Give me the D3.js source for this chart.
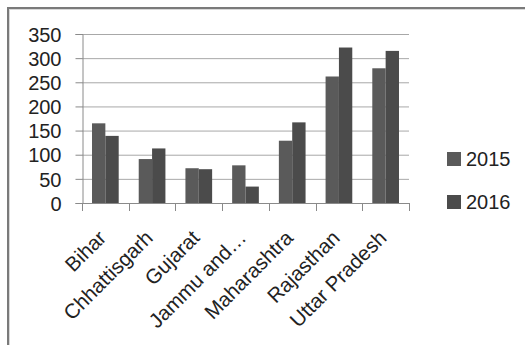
<!DOCTYPE html>
<html>
<head>
<meta charset="utf-8">
<script src="https://cdn.jsdelivr.net/npm/d3@7"></script>
<style>
  html, body { margin: 0; padding: 0; background: #fff; }
  svg { display: block; }
  text { font-family: "Liberation Sans", Arial, sans-serif; fill: #222; }
</style>
</head>
<body>
<svg id="chart" width="525" height="345"></svg>
<script>
// States and yearly counts
const categories = ["Bihar", "Chhattisgarh", "Gujarat", "Jammu and\u2026", "Maharashtra", "Rajasthan", "Uttar Pradesh"];
const seriesNames = ["2015", "2016"];
const values2015 = [165, 91, 72, 78, 129, 262, 279];
const values2016 = [139, 113, 70, 34, 167, 322, 315];
const yTicks = [0, 50, 100, 150, 200, 250, 300, 350];
const colors = ["#5a5a5a", "#4b4b4b"];

const svg = d3.select("#chart");

// Frame edges (top and left)
svg.append("rect").attr("x", 7).attr("y", 7).attr("width", 518).attr("height", 2).attr("fill", "#7a7a7a");
svg.append("rect").attr("x", 7).attr("y", 9).attr("width", 518).attr("height", 1).attr("fill", "#d8d8d8");
svg.append("rect").attr("x", 7).attr("y", 7).attr("width", 2).attr("height", 338).attr("fill", "#7a7a7a");
svg.append("rect").attr("x", 9).attr("y", 9).attr("width", 1).attr("height", 336).attr("fill", "#d8d8d8");

const plot = { left: 82, right: 409, top: 34, bottom: 203 };

const x = d3.scaleBand().domain(categories).range([plot.left, plot.right]);
const y = d3.scaleLinear().domain([0, 350]).range([plot.bottom, plot.top]);

// Gridlines
svg.append("g").selectAll("line").data(yTicks.filter(d => d > 0)).join("line")
  .attr("x1", plot.left).attr("x2", plot.right)
  .attr("y1", d => y(d) + 0.5).attr("y2", d => y(d) + 0.5)
  .attr("stroke", "#a8a8a8").attr("stroke-width", 1);

// Y axis
const yAxis = svg.append("g").attr("transform", `translate(${plot.left + 0.5},0)`)
  .call(d3.axisLeft(y).tickValues(yTicks).tickSize(7).tickPadding(14));
yAxis.select(".domain").attr("stroke", "#8a8a8a");
yAxis.selectAll(".tick line").attr("stroke", "#8a8a8a");
yAxis.selectAll("text").attr("font-size", "20px").attr("fill", "#222")
  .attr("font-family", "'Liberation Sans', Arial, sans-serif").attr("dy", "0.36em");

// Bars
const rows = categories.map((c, i) => ({ c, vals: [values2015[i], values2016[i]] }));
const bw = x.bandwidth() / 3.5;
const groups = svg.append("g").selectAll("g").data(rows).join("g")
  .attr("transform", d => `translate(${x(d.c) + (x.bandwidth() - 2 * bw) / 2},0)`);
groups.selectAll("rect").data(d => d.vals).join("rect")
  .attr("x", (d, i) => i * bw)
  .attr("y", d => y(d))
  .attr("width", bw)
  .attr("height", d => y(0) - y(d))
  .attr("fill", (d, i) => colors[i]);

// X axis with boundary ticks
const xg = svg.append("g");
xg.append("line").attr("x1", plot.left).attr("x2", plot.right + 1)
  .attr("y1", plot.bottom + 0.5).attr("y2", plot.bottom + 0.5).attr("stroke", "#8a8a8a");
const bounds = categories.map(c => x(c)).concat([plot.right]);
xg.selectAll("line.tk").data(bounds).join("line").attr("class", "tk")
  .attr("x1", d => Math.round(d) + 0.5).attr("x2", d => Math.round(d) + 0.5)
  .attr("y1", plot.bottom).attr("y2", plot.bottom + 8).attr("stroke", "#8a8a8a");

// Rotated category labels
xg.selectAll("text").data(categories).join("text")
  .attr("transform", d => `translate(${x(d) + x.bandwidth() / 2 - 3},${plot.bottom + 31}) rotate(-45)`)
  .attr("text-anchor", "end")
  .attr("dy", "0.35em")
  .attr("font-size", "20.5px")
  .text(d => d);

// Legend
const legend = svg.append("g").selectAll("g").data(seriesNames).join("g")
  .attr("transform", (d, i) => `translate(447,${152 + i * 43})`);
legend.append("rect").attr("width", 14).attr("height", 14).attr("fill", (d, i) => colors[i]);
legend.append("text").attr("x", 19).attr("y", 14).attr("font-size", "20px").text(d => d);
</script>
</body>
</html>
